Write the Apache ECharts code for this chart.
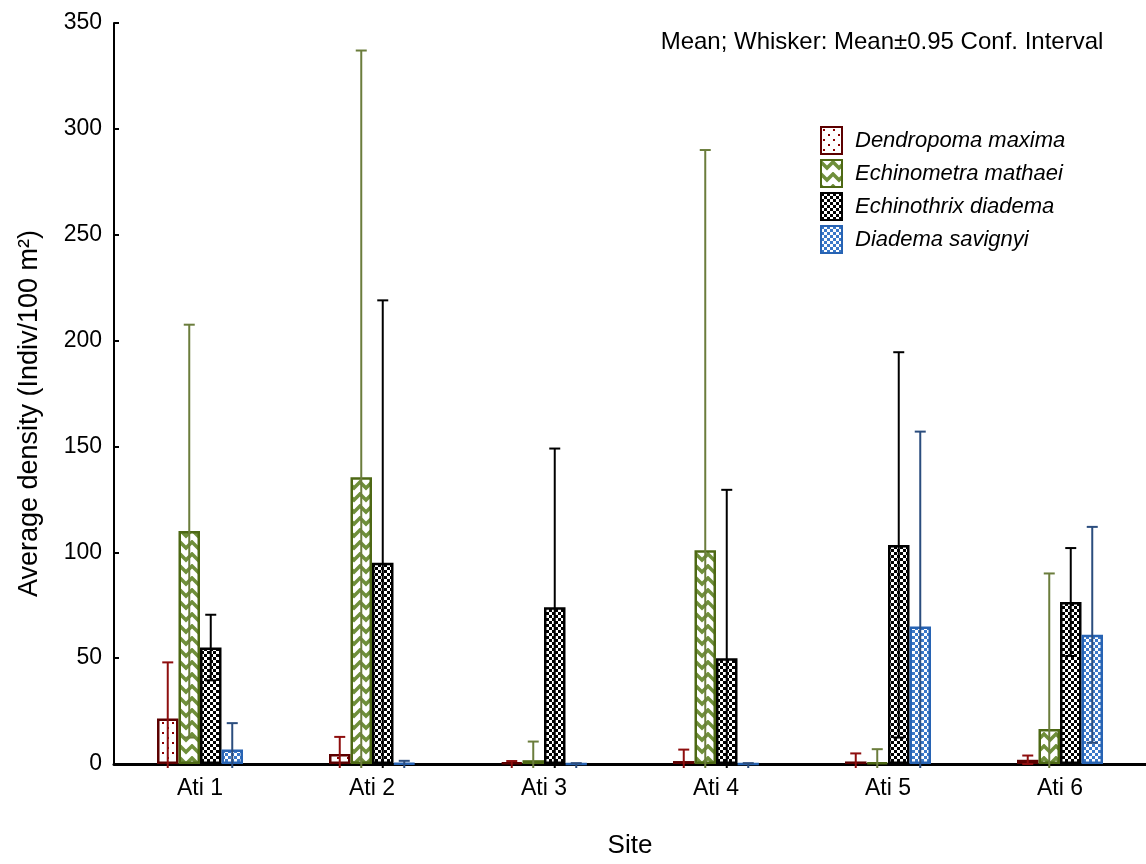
<!DOCTYPE html>
<html><head><meta charset="utf-8">
<script src="https://cdn.jsdelivr.net/npm/echarts@6/dist/echarts.min.js"></script>
<style>html,body{margin:0;padding:0;background:#fff}#c{width:1146px;height:864px}</style>
</head><body><div id="c"></div>
<script>
const categories = ['Ati 1', 'Ati 2', 'Ati 3', 'Ati 4', 'Ati 5', 'Ati 6'];
const speciesNames = ['Dendropoma maxima', 'Echinometra mathaei', 'Echinothrix diadema', 'Diadema savignyi'];
// means
const dendropomaMean = [21.5, 4.7, 0.6, 1.4, 1.2, 2.0];
const echinometraMean = [110, 135.5, 1.8, 101, 0.6, 16.5];
const echinothrixMean = [55, 95, 74, 50, 103.5, 76.5];
const diademaMean = [6.8, 0.3, 0.1, 0.1, 65, 61];
// 0.95 confidence half-widths
const dendropomaCI = [26.5, 8.1, 0.8, 5.4, 3.8, 2.0];
const echinometraCI = [97.5, 201.5, 8.8, 189, 6.4, 73.5];
const echinothrixCI = [15.5, 124, 75, 79.5, 91, 25.5];
const diademaCI = [12.5, 1.2, 0.3, 0.3, 92, 51];
const yMin = 0, yMax = 350, yStep = 50;

const means = [dendropomaMean, echinometraMean, echinothrixMean, diademaMean];
const cis = [dendropomaCI, echinometraCI, echinothrixCI, diademaCI];

function makePattern(w, h, draw) {
  const c = document.createElement('canvas');
  c.width = w; c.height = h;
  const ctx = c.getContext('2d');
  ctx.fillStyle = '#fff'; ctx.fillRect(0, 0, w, h);
  draw(ctx);
  return { image: c, repeat: 'repeat' };
}
const patterns = [
  makePattern(10, 10, ctx => { ctx.fillStyle = '#8b0000'; ctx.fillRect(2, 2, 2, 2); ctx.fillRect(7, 7, 2, 2); }),
  makePattern(12, 12, ctx => {
    ctx.strokeStyle = '#6f8f3a'; ctx.lineWidth = 3.5;
    ctx.beginPath(); ctx.moveTo(-1, 1); ctx.lineTo(6, 8); ctx.lineTo(13, 1); ctx.stroke();
  }),
  makePattern(6, 6, ctx => { ctx.fillStyle = '#000'; ctx.fillRect(0, 0, 3, 3); ctx.fillRect(3, 3, 3, 3); }),
  makePattern(6, 6, ctx => { ctx.fillStyle = '#3a78c8'; ctx.fillRect(0, 0, 3, 3); ctx.fillRect(3, 3, 3, 3); })
];
const borderColors = ['#5c0000', '#4d6814', '#000000', '#2763b3'];
const whiskerColors = ['#8e0e0e', '#6b7d3c', '#000000', '#2b4d7e'];
const BAR_W = 21.5;
const FONT = "'Liberation Sans', Arial, sans-serif";

const series = [];
speciesNames.forEach((name, s) => {
  series.push({
    name: name, type: 'bar', barWidth: BAR_W, barGap: '0%', z: 2,
    data: means[s],
    itemStyle: { color: patterns[s], borderColor: borderColors[s], borderWidth: 2.5 },
    emphasis: { disabled: true }
  });
});
speciesNames.forEach((name, s) => {
  series.push({
    type: 'custom', z: 5, silent: true,
    data: means[s].map((m, i) => [i, m - cis[s][i], m + cis[s][i]]),
    encode: { x: 0, y: [1, 2] },
    renderItem: function (params, api) {
      const i = api.value(0);
      const lo = api.value(1), hi = api.value(2);
      const off = (s - 1.5) * BAR_W;
      const pHi = api.coord([i, hi]);
      const p0 = api.coord([i, 0]);
      const x = pHi[0] + off;
      let yLo;
      let loCap = false;
      if (lo < 0) { yLo = p0[1] + 4; } else { yLo = api.coord([i, lo])[1]; loCap = true; }
      const style = { stroke: whiskerColors[s], lineWidth: 2 };
      const children = [
        { type: 'line', shape: { x1: x, y1: pHi[1], x2: x, y2: yLo }, style: style },
        { type: 'line', shape: { x1: x - 5.5, y1: pHi[1], x2: x + 5.5, y2: pHi[1] }, style: style }
      ];
      if (loCap) children.push({ type: 'line', shape: { x1: x - 5.5, y1: yLo, x2: x + 5.5, y2: yLo }, style: style });
      return { type: 'group', children: children };
    }
  });
});

const chart = echarts.init(document.getElementById('c'), null, { renderer: 'canvas' });
chart.setOption({
  animation: false,
  backgroundColor: '#fff',
  graphic: [{
    type: 'text', x: 882, y: 42, silent: true,
    style: {
      text: 'Mean; Whisker: Mean±0.95 Conf. Interval',
      fill: '#000', font: "24px 'Liberation Sans', Arial, sans-serif",
      textAlign: 'center', textVerticalAlign: 'middle'
    }
  }],
  legend: {
    data: speciesNames, orient: 'vertical', left: 820, top: 126, padding: 0,
    itemWidth: 21, itemHeight: 27, itemGap: 4, icon: 'rect',
    textStyle: { fontSize: 22, fontStyle: 'italic', color: '#000', fontFamily: FONT, padding: [0, 0, 0, 8] },
    selectedMode: false
  },
  grid: { left: 114, right: 0, top: 23, bottom: 98 },
  xAxis: {
    type: 'category', data: categories,
    axisLine: { lineStyle: { color: '#000', width: 3 } },
    axisTick: { show: false },
    axisLabel: { color: '#000', fontSize: 23, fontFamily: FONT, margin: 13 },
    name: 'Site', nameLocation: 'middle', nameGap: 69,
    nameTextStyle: { color: '#000', fontSize: 26, fontFamily: FONT }
  },
  yAxis: {
    type: 'value', min: yMin, max: yMax, interval: yStep,
    splitLine: { show: false },
    axisLine: { show: true, lineStyle: { color: '#000', width: 2 } },
    axisTick: { show: true, inside: true, length: 5, lineStyle: { color: '#000', width: 2 } },
    axisLabel: { color: '#000', fontSize: 23, fontFamily: FONT, margin: 12 },
    name: 'Average density (Indiv/100 m²)', nameLocation: 'middle', nameGap: 71,
    nameTextStyle: { color: '#000', fontSize: 27, fontFamily: FONT, padding: [0, 40, 0, 0] }
  },
  series: series
});
</script></body></html>
